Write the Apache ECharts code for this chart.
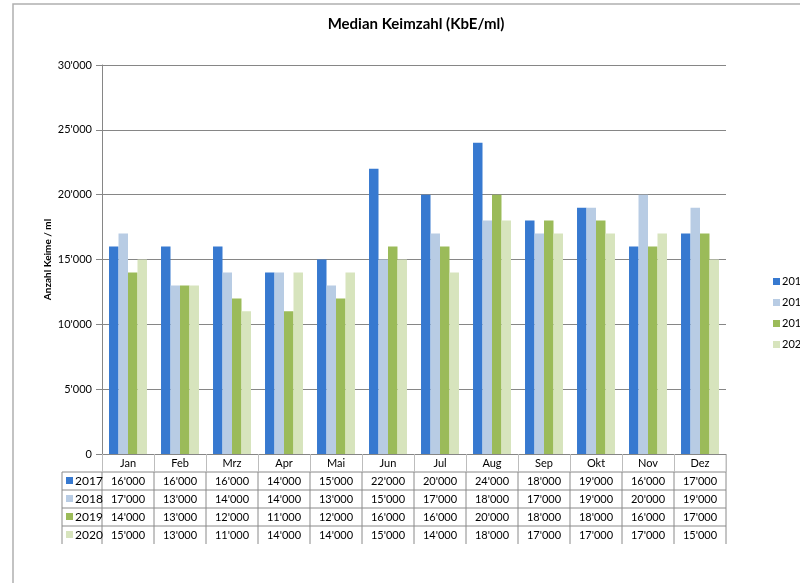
<!DOCTYPE html>
<html><head><meta charset="utf-8">
<script src="https://cdn.jsdelivr.net/npm/echarts@6/dist/echarts.min.js"></script>
<style>html,body{margin:0;padding:0;background:#fff}#c{width:800px;height:583px}</style>
</head><body><div id="c"></div>
<script>
const months = ['Jan','Feb','Mrz','Apr','Mai','Jun','Jul','Aug','Sep','Okt','Nov','Dez'];
const years = ['2017','2018','2019','2020'];
const v2017 = [16000,16000,16000,14000,15000,22000,20000,24000,18000,19000,16000,17000];
const v2018 = [17000,13000,14000,14000,13000,15000,17000,18000,17000,19000,20000,19000];
const v2019 = [14000,13000,12000,11000,12000,16000,16000,20000,18000,18000,16000,17000];
const v2020 = [15000,13000,11000,14000,14000,15000,14000,18000,17000,17000,17000,15000];
const yTicks = [0,5000,10000,15000,20000,25000,30000];
const seriesValues = [v2017, v2018, v2019, v2020];
const colors = ['#3779D0','#B8CCE4','#9BBB59','#D7E4BD'];

const FONT = 'Lato, "Open Sans", sans-serif';
const fmt = v => { if (v === 0) return '0'; const s = String(v); return s.slice(0, s.length-3) + "'" + s.slice(-3); };

const chart = echarts.init(document.getElementById('c'));
const option = {
  animation: false,
  backgroundColor: '#fff',
  title: { text: 'Median Keimzahl (KbE/ml)', left: 411, top: 12, textAlign: 'center',
    textStyle: { fontFamily: FONT, fontSize: 15, fontWeight: 'bold', color: '#000' } },
  legend: { orient: 'vertical', left: 773, top: 276, padding: 0, itemWidth: 7, itemHeight: 7, itemGap: 10,
    icon: 'rect', data: years,
    textStyle: { fontFamily: FONT, fontSize: 11, color: '#000', padding: [0,0,0,-3] } },
  grid: { left: 102, right: 74, top: 65, bottom: 129, containLabel: false },
  xAxis: { type: 'category', data: months,
    axisLine: { lineStyle: { color: '#868686', width: 1 } },
    axisTick: { show: true, length: 18, lineStyle: { color: '#bdbdbd' } },
    axisLabel: { fontFamily: FONT, fontSize: 11, color: '#000', margin: 4 } },
  yAxis: { type: 'value', min: 0, max: 30000, interval: 5000,
    name: 'Anzahl Keime / ml', nameLocation: 'middle', nameGap: 49, nameRotate: 90, nameMoveOverlap: false,
    nameTextStyle: { fontFamily: FONT, fontSize: 10, fontWeight: 'bold', color: '#000' },
    axisLine: { show: true, lineStyle: { color: '#868686' } },
    axisTick: { show: true, length: 6, lineStyle: { color: '#868686' } },
    splitLine: { lineStyle: { color: '#868686', width: 1 } },
    axisLabel: { fontFamily: FONT, fontSize: 11, color: '#000', margin: 10, formatter: v => fmt(v) } },
  series: years.map((y, i) => ({
    name: y, type: 'bar', data: seriesValues[i], barGap: '0%', barCategoryGap: '27%',
    itemStyle: { color: colors[i] }
  }))
};
chart.setOption(option);

// Build data table below the axis using the library's scales
const y0 = chart.convertToPixel({ yAxisIndex: 0 }, 0);
const x0 = chart.convertToPixel({ xAxisIndex: 0 }, 0);
const x1 = chart.convertToPixel({ xAxisIndex: 0 }, 1);
const cw = x1 - x0;
const left = x0 - cw / 2;
const right = left + cw * months.length;
const rowH = 18, keyW = 40;
const g = [];
g.push({ type: 'rect', shape: { x: 13, y: 4, width: 820, height: 620 }, silent: true,
  style: { fill: 'none', stroke: '#b0b0b0', lineWidth: 1.5 }, z: 0 });
const lineStyle = { stroke: '#8a8a8a', lineWidth: 1 };
for (let r = 1; r <= years.length; r++) {
  const yy = y0 + rowH * r;
  g.push({ type: 'line', shape: { x1: left - keyW, y1: yy, x2: right, y2: yy }, style: lineStyle });
}
g.push({ type: 'line', shape: { x1: left - keyW, y1: y0 + rowH, x2: left - keyW, y2: y0 + rowH * 5 }, style: lineStyle });
for (let i = 0; i <= months.length; i++) {
  const xx = left + cw * i;
  g.push({ type: 'line', shape: { x1: xx, y1: y0 + rowH, x2: xx, y2: y0 + rowH * 5 }, style: lineStyle });
}
g.push({ type: 'line', shape: { x1: right, y1: y0, x2: right, y2: y0 + rowH }, style: { stroke: '#bdbdbd', lineWidth: 1 } });
years.forEach((y, r) => {
  const cy = y0 + rowH * (r + 1) + rowH / 2;
  g.push({ type: 'rect', shape: { x: left - keyW + 4, y: cy - 4, width: 7, height: 7 }, style: { fill: colors[r] } });
  g.push({ type: 'text', x: left - keyW + 13, y: cy, style: { text: y, font: '12px ' + FONT, fill: '#000', textVerticalAlign: 'middle', verticalAlign: 'middle' } });
  seriesValues[r].forEach((v, i) => {
    const cx = chart.convertToPixel({ xAxisIndex: 0 }, i);
    g.push({ type: 'text', x: cx, y: cy, style: { text: fmt(v), font: '11px ' + FONT, fill: '#000', align: 'center', textAlign: 'center', verticalAlign: 'middle', textVerticalAlign: 'middle' } });
  });
});
chart.setOption({ graphic: g });
</script></body></html>
